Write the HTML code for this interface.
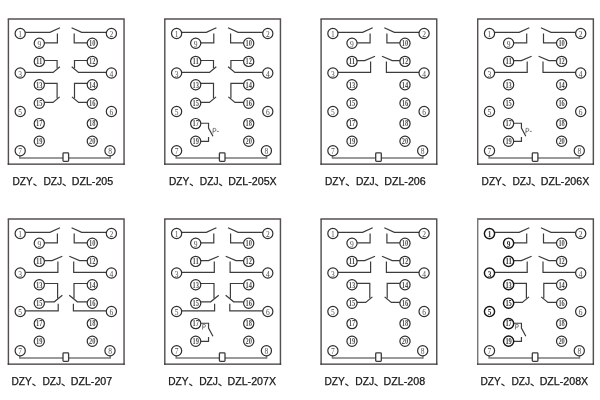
<!DOCTYPE html>
<html><head><meta charset="utf-8"><style>
html,body{margin:0;padding:0;background:#fff;width:600px;height:400px;overflow:hidden}
svg{display:block;will-change:transform}
.bx{fill:none;stroke:#555050;stroke-width:1.45}
.bxb{fill:none;stroke:#363333;stroke-width:1.2}
.ln{fill:none;stroke:#3c3c3c;stroke-width:1.2}
.cl{fill:none;stroke:#7a7a7a;stroke-width:1.5}
.rc{fill:#fff;stroke:#3a3a3a;stroke-width:1.3}
.c{fill:#fff;stroke:#2e2e2e;stroke-width:1.2}
.cb{fill:#fff;stroke:#151515;stroke-width:1.45}
.nb{font-family:"Liberation Serif",serif;font-size:7.3px;fill:#333;text-anchor:middle;font-weight:bold}
.n{font-family:"Liberation Serif",serif;font-size:7.2px;fill:#4e4e4e;font-weight:bold;text-anchor:middle}
.n1{font-family:"Liberation Serif",serif;font-size:7.5px;fill:#505050;text-anchor:middle}
.pg{fill:none;stroke:#707070;stroke-width:0.9}
.lb{font-family:"Liberation Sans",sans-serif;font-size:10.5px;fill:#151515;stroke:#151515;stroke-width:0.25}
.cm{fill:none;stroke:#2a2a2a;stroke-width:1.2;stroke-linecap:round}
</style></head><body>
<svg width="600" height="400" viewBox="0 0 600 400">
<g transform="translate(0,0)"><path class="bx" d="M7.7 19.05H124.75M124.05 19V164.8"/><path class="bx" d="M8.4 19V164.8"/><path class="bxb" d="M7.7 164.15H124.75"/><path class="ln" d="M25.3 32.3 L49.9 32.3 L60 27.7"/><path class="ln" d="M106.3 32.3 L81.7 32.3 L71.6 27.7"/><path class="ln" d="M44.4 42.8 L57.4 42.8 L57.4 33.4"/><path class="ln" d="M87.2 42.8 L74.2 42.8 L74.2 33.4"/><path class="ln" d="M44.4 60.5 L57.1 60.5 L57.1 68.2"/><path class="ln" d="M87.2 60.5 L74.5 60.5 L74.5 68.2"/><path class="ln" d="M25.3 72.35 L53.1 72.35 L59.9 66.7"/><path class="ln" d="M106.3 72.35 L78.5 72.35 L71.7 66.7"/><path class="ln" d="M44.4 83.4 L57.1 83.4 L57.1 98.2"/><path class="ln" d="M87.2 83.4 L74.5 83.4 L74.5 98.2"/><path class="ln" d="M44.4 102.4 L53 102.4 L59.7 96.9"/><path class="ln" d="M87.2 102.4 L78.6 102.4 L71.9 96.9"/><path class="cl" d="M19.8 155.8 L19.8 157.9 L63 157.9"/><path class="cl" d="M68.6 157.9 L110.2 157.9 L110.2 155.8"/><rect class="rc" x="63" y="152.9" width="5.6" height="8.5" rx="0.8"/><circle class="c" cx="20.2" cy="33.55" r="5.1"/><text class="n1" x="20.2" y="37.15">1</text><circle class="c" cx="111.4" cy="33.55" r="5.1"/><text class="n1" x="111.4" y="37.15">2</text><circle class="c" cx="20.2" cy="73" r="5.1"/><text class="n1" x="20.2" y="76.6">3</text><circle class="c" cx="111.4" cy="73" r="5.1"/><text class="n1" x="111.4" y="76.6">4</text><circle class="c" cx="20.2" cy="111.5" r="5.1"/><text class="n1" x="20.2" y="115.1">5</text><circle class="c" cx="111.4" cy="111.5" r="5.1"/><text class="n1" x="111.4" y="115.1">6</text><circle class="c" cx="20.2" cy="150.7" r="5.1"/><text class="n1" x="20.2" y="154.3">7</text><circle class="c" cx="110" cy="150.7" r="5.1"/><text class="n1" x="110" y="154.3">8</text><circle class="c" cx="39.3" cy="43.2" r="5.1"/><text class="n1" x="39.3" y="46.8">9</text><circle class="c" cx="92.3" cy="43.2" r="5.1"/><text class="n" x="92.3" y="46" textLength="6.4" lengthAdjust="spacingAndGlyphs">10</text><circle class="c" cx="39.3" cy="61.4" r="5.1"/><text class="n" x="39.3" y="64.2" textLength="6.4" lengthAdjust="spacingAndGlyphs">11</text><circle class="c" cx="92.3" cy="61.4" r="5.1"/><text class="n" x="92.3" y="64.2" textLength="6.4" lengthAdjust="spacingAndGlyphs">12</text><circle class="c" cx="39.3" cy="84.7" r="5.1"/><text class="n" x="39.3" y="87.5" textLength="6.4" lengthAdjust="spacingAndGlyphs">13</text><circle class="c" cx="92.3" cy="84.7" r="5.1"/><text class="n" x="92.3" y="87.5" textLength="6.4" lengthAdjust="spacingAndGlyphs">14</text><circle class="c" cx="39.3" cy="103.2" r="5.1"/><text class="n" x="39.3" y="106" textLength="6.4" lengthAdjust="spacingAndGlyphs">15</text><circle class="c" cx="92.3" cy="103.2" r="5.1"/><text class="n" x="92.3" y="106" textLength="6.4" lengthAdjust="spacingAndGlyphs">16</text><circle class="c" cx="39.3" cy="123.6" r="5.1"/><text class="n" x="39.3" y="126.4" textLength="6.4" lengthAdjust="spacingAndGlyphs">17</text><circle class="c" cx="92.3" cy="123.6" r="5.1"/><text class="n" x="92.3" y="126.4" textLength="6.4" lengthAdjust="spacingAndGlyphs">18</text><circle class="c" cx="39.3" cy="141.2" r="5.1"/><text class="n" x="39.3" y="144" textLength="6.4" lengthAdjust="spacingAndGlyphs">19</text><circle class="c" cx="92.3" cy="141.2" r="5.1"/><text class="n" x="92.3" y="144" textLength="6.4" lengthAdjust="spacingAndGlyphs">20</text><text class="lb" x="12.5" y="185" textLength="20.3" lengthAdjust="spacingAndGlyphs">DZY</text><path class="cm" d="M33.7 184.1 l2.3 1.5"/><text class="lb" x="43.4" y="185" textLength="18.8" lengthAdjust="spacingAndGlyphs">DZJ</text><path class="cm" d="M62.9 184.1 l2.3 1.5"/><text class="lb" x="71.7" y="185" textLength="41.5" lengthAdjust="spacingAndGlyphs">DZL-205</text></g>
<g transform="translate(156.4,0)"><path class="bx" d="M7.7 19.05H124.75M124.05 19V164.8"/><path class="bx" d="M8.4 19V164.8"/><path class="bxb" d="M7.7 164.15H124.75"/><path class="ln" d="M25.3 32.3 L49.9 32.3 L60 27.7"/><path class="ln" d="M106.3 32.3 L81.7 32.3 L71.6 27.7"/><path class="ln" d="M44.4 42.8 L57.4 42.8 L57.4 33.4"/><path class="ln" d="M87.2 42.8 L74.2 42.8 L74.2 33.4"/><path class="ln" d="M44.4 60.5 L57.1 60.5 L57.1 68.2"/><path class="ln" d="M87.2 60.5 L74.5 60.5 L74.5 68.2"/><path class="ln" d="M25.3 72.35 L53.1 72.35 L59.9 66.7"/><path class="ln" d="M106.3 72.35 L78.5 72.35 L71.7 66.7"/><path class="ln" d="M44.4 83.4 L57.1 83.4 L57.1 98.2"/><path class="ln" d="M87.2 83.4 L74.5 83.4 L74.5 98.2"/><path class="ln" d="M44.4 102.4 L53 102.4 L59.7 96.9"/><path class="ln" d="M87.2 102.4 L78.6 102.4 L71.9 96.9"/><path class="ln" d="M44.4 123.25 L52.14 123.25 L52.14 128.15 L56.55 136.33"/><path class="ln" d="M44.4 141.44 L52.14 141.44 L52.14 137"/><path class="pg" d="M56.85 128.3L56.55 133.5M56.8 128.4H58.3Q59.65 128.4 59.55 129.9Q59.45 131.4 58.1 131.4H56.6M60.5 131.35H62.45"/><path class="cl" d="M19.8 155.8 L19.8 157.9 L63 157.9"/><path class="cl" d="M68.6 157.9 L110.2 157.9 L110.2 155.8"/><rect class="rc" x="63" y="152.9" width="5.6" height="8.5" rx="0.8"/><circle class="c" cx="20.2" cy="33.55" r="5.1"/><text class="n1" x="20.2" y="37.15">1</text><circle class="c" cx="111.4" cy="33.55" r="5.1"/><text class="n1" x="111.4" y="37.15">2</text><circle class="c" cx="20.2" cy="73" r="5.1"/><text class="n1" x="20.2" y="76.6">3</text><circle class="c" cx="111.4" cy="73" r="5.1"/><text class="n1" x="111.4" y="76.6">4</text><circle class="c" cx="20.2" cy="111.5" r="5.1"/><text class="n1" x="20.2" y="115.1">5</text><circle class="c" cx="111.4" cy="111.5" r="5.1"/><text class="n1" x="111.4" y="115.1">6</text><circle class="c" cx="20.2" cy="150.7" r="5.1"/><text class="n1" x="20.2" y="154.3">7</text><circle class="c" cx="110" cy="150.7" r="5.1"/><text class="n1" x="110" y="154.3">8</text><circle class="c" cx="39.3" cy="43.2" r="5.1"/><text class="n1" x="39.3" y="46.8">9</text><circle class="c" cx="92.3" cy="43.2" r="5.1"/><text class="n" x="92.3" y="46" textLength="6.4" lengthAdjust="spacingAndGlyphs">10</text><circle class="c" cx="39.3" cy="61.4" r="5.1"/><text class="n" x="39.3" y="64.2" textLength="6.4" lengthAdjust="spacingAndGlyphs">11</text><circle class="c" cx="92.3" cy="61.4" r="5.1"/><text class="n" x="92.3" y="64.2" textLength="6.4" lengthAdjust="spacingAndGlyphs">12</text><circle class="c" cx="39.3" cy="84.7" r="5.1"/><text class="n" x="39.3" y="87.5" textLength="6.4" lengthAdjust="spacingAndGlyphs">13</text><circle class="c" cx="92.3" cy="84.7" r="5.1"/><text class="n" x="92.3" y="87.5" textLength="6.4" lengthAdjust="spacingAndGlyphs">14</text><circle class="c" cx="39.3" cy="103.2" r="5.1"/><text class="n" x="39.3" y="106" textLength="6.4" lengthAdjust="spacingAndGlyphs">15</text><circle class="c" cx="92.3" cy="103.2" r="5.1"/><text class="n" x="92.3" y="106" textLength="6.4" lengthAdjust="spacingAndGlyphs">16</text><circle class="c" cx="39.3" cy="123.6" r="5.1"/><text class="n" x="39.3" y="126.4" textLength="6.4" lengthAdjust="spacingAndGlyphs">17</text><circle class="c" cx="92.3" cy="123.6" r="5.1"/><text class="n" x="92.3" y="126.4" textLength="6.4" lengthAdjust="spacingAndGlyphs">18</text><circle class="c" cx="39.3" cy="141.2" r="5.1"/><text class="n" x="39.3" y="144" textLength="6.4" lengthAdjust="spacingAndGlyphs">19</text><circle class="c" cx="92.3" cy="141.2" r="5.1"/><text class="n" x="92.3" y="144" textLength="6.4" lengthAdjust="spacingAndGlyphs">20</text><text class="lb" x="12.55" y="185" textLength="20.3" lengthAdjust="spacingAndGlyphs">DZY</text><path class="cm" d="M33.75 184.1 l2.3 1.5"/><text class="lb" x="43.45" y="185" textLength="18.8" lengthAdjust="spacingAndGlyphs">DZJ</text><path class="cm" d="M62.95 184.1 l2.3 1.5"/><text class="lb" x="71.75" y="185" textLength="48.5" lengthAdjust="spacingAndGlyphs">DZL-205X</text></g>
<g transform="translate(312.7,0)"><path class="bx" d="M7.7 19.05H124.75M124.05 19V164.8"/><path class="bx" d="M8.4 19V164.8"/><path class="bxb" d="M7.7 164.15H124.75"/><path class="ln" d="M25.3 32.3 L49.9 32.3 L60 27.7"/><path class="ln" d="M106.3 32.3 L81.7 32.3 L71.6 27.7"/><path class="ln" d="M44.4 42.8 L57.4 42.8 L57.4 33.4"/><path class="ln" d="M87.2 42.8 L74.2 42.8 L74.2 33.4"/><path class="ln" d="M44.4 60.65 L52.07 60.65 L62.33 56.3"/><path class="ln" d="M87.2 60.65 L79.53 60.65 L69.27 56.3"/><path class="ln" d="M25.3 72.35 L57.9 72.35 L57.9 61.6"/><path class="ln" d="M106.3 72.35 L73.7 72.35 L73.7 61.6"/><path class="cl" d="M19.8 155.8 L19.8 157.9 L63 157.9"/><path class="cl" d="M68.6 157.9 L110.2 157.9 L110.2 155.8"/><rect class="rc" x="63" y="152.9" width="5.6" height="8.5" rx="0.8"/><circle class="c" cx="20.2" cy="33.55" r="5.1"/><text class="n1" x="20.2" y="37.15">1</text><circle class="c" cx="111.4" cy="33.55" r="5.1"/><text class="n1" x="111.4" y="37.15">2</text><circle class="c" cx="20.2" cy="73" r="5.1"/><text class="n1" x="20.2" y="76.6">3</text><circle class="c" cx="111.4" cy="73" r="5.1"/><text class="n1" x="111.4" y="76.6">4</text><circle class="c" cx="20.2" cy="111.5" r="5.1"/><text class="n1" x="20.2" y="115.1">5</text><circle class="c" cx="111.4" cy="111.5" r="5.1"/><text class="n1" x="111.4" y="115.1">6</text><circle class="c" cx="20.2" cy="150.7" r="5.1"/><text class="n1" x="20.2" y="154.3">7</text><circle class="c" cx="110" cy="150.7" r="5.1"/><text class="n1" x="110" y="154.3">8</text><circle class="c" cx="39.3" cy="43.2" r="5.1"/><text class="n1" x="39.3" y="46.8">9</text><circle class="c" cx="92.3" cy="43.2" r="5.1"/><text class="n" x="92.3" y="46" textLength="6.4" lengthAdjust="spacingAndGlyphs">10</text><circle class="c" cx="39.3" cy="61.4" r="5.1"/><text class="n" x="39.3" y="64.2" textLength="6.4" lengthAdjust="spacingAndGlyphs">11</text><circle class="c" cx="92.3" cy="61.4" r="5.1"/><text class="n" x="92.3" y="64.2" textLength="6.4" lengthAdjust="spacingAndGlyphs">12</text><circle class="c" cx="39.3" cy="84.7" r="5.1"/><text class="n" x="39.3" y="87.5" textLength="6.4" lengthAdjust="spacingAndGlyphs">13</text><circle class="c" cx="92.3" cy="84.7" r="5.1"/><text class="n" x="92.3" y="87.5" textLength="6.4" lengthAdjust="spacingAndGlyphs">14</text><circle class="c" cx="39.3" cy="103.2" r="5.1"/><text class="n" x="39.3" y="106" textLength="6.4" lengthAdjust="spacingAndGlyphs">15</text><circle class="c" cx="92.3" cy="103.2" r="5.1"/><text class="n" x="92.3" y="106" textLength="6.4" lengthAdjust="spacingAndGlyphs">16</text><circle class="c" cx="39.3" cy="123.6" r="5.1"/><text class="n" x="39.3" y="126.4" textLength="6.4" lengthAdjust="spacingAndGlyphs">17</text><circle class="c" cx="92.3" cy="123.6" r="5.1"/><text class="n" x="92.3" y="126.4" textLength="6.4" lengthAdjust="spacingAndGlyphs">18</text><circle class="c" cx="39.3" cy="141.2" r="5.1"/><text class="n" x="39.3" y="144" textLength="6.4" lengthAdjust="spacingAndGlyphs">19</text><circle class="c" cx="92.3" cy="141.2" r="5.1"/><text class="n" x="92.3" y="144" textLength="6.4" lengthAdjust="spacingAndGlyphs">20</text><text class="lb" x="12.3" y="185" textLength="20.3" lengthAdjust="spacingAndGlyphs">DZY</text><path class="cm" d="M33.5 184.1 l2.3 1.5"/><text class="lb" x="43.2" y="185" textLength="18.8" lengthAdjust="spacingAndGlyphs">DZJ</text><path class="cm" d="M62.7 184.1 l2.3 1.5"/><text class="lb" x="71.5" y="185" textLength="41.5" lengthAdjust="spacingAndGlyphs">DZL-206</text></g>
<g transform="translate(469.3,0)"><path class="bx" d="M7.7 19.05H124.75M124.05 19V164.8"/><path class="bx" d="M8.4 19V164.8"/><path class="bxb" d="M7.7 164.15H124.75"/><path class="ln" d="M25.3 32.3 L49.9 32.3 L60 27.7"/><path class="ln" d="M106.3 32.3 L81.7 32.3 L71.6 27.7"/><path class="ln" d="M44.4 42.8 L57.4 42.8 L57.4 33.4"/><path class="ln" d="M87.2 42.8 L74.2 42.8 L74.2 33.4"/><path class="ln" d="M44.4 60.65 L52.07 60.65 L62.33 56.3"/><path class="ln" d="M87.2 60.65 L79.53 60.65 L69.27 56.3"/><path class="ln" d="M25.3 72.35 L57.9 72.35 L57.9 61.6"/><path class="ln" d="M106.3 72.35 L73.7 72.35 L73.7 61.6"/><path class="ln" d="M44.4 123.25 L52.14 123.25 L52.14 128.15 L56.55 136.33"/><path class="ln" d="M44.4 141.44 L52.14 141.44 L52.14 137"/><path class="pg" d="M56.85 128.3L56.55 133.5M56.8 128.4H58.3Q59.65 128.4 59.55 129.9Q59.45 131.4 58.1 131.4H56.6M60.5 131.35H62.45"/><path class="cl" d="M19.8 155.8 L19.8 157.9 L63 157.9"/><path class="cl" d="M68.6 157.9 L110.2 157.9 L110.2 155.8"/><rect class="rc" x="63" y="152.9" width="5.6" height="8.5" rx="0.8"/><circle class="c" cx="20.2" cy="33.55" r="5.1"/><text class="n1" x="20.2" y="37.15">1</text><circle class="c" cx="111.4" cy="33.55" r="5.1"/><text class="n1" x="111.4" y="37.15">2</text><circle class="c" cx="20.2" cy="73" r="5.1"/><text class="n1" x="20.2" y="76.6">3</text><circle class="c" cx="111.4" cy="73" r="5.1"/><text class="n1" x="111.4" y="76.6">4</text><circle class="c" cx="20.2" cy="111.5" r="5.1"/><text class="n1" x="20.2" y="115.1">5</text><circle class="c" cx="111.4" cy="111.5" r="5.1"/><text class="n1" x="111.4" y="115.1">6</text><circle class="c" cx="20.2" cy="150.7" r="5.1"/><text class="n1" x="20.2" y="154.3">7</text><circle class="c" cx="110" cy="150.7" r="5.1"/><text class="n1" x="110" y="154.3">8</text><circle class="c" cx="39.3" cy="43.2" r="5.1"/><text class="n1" x="39.3" y="46.8">9</text><circle class="c" cx="92.3" cy="43.2" r="5.1"/><text class="n" x="92.3" y="46" textLength="6.4" lengthAdjust="spacingAndGlyphs">10</text><circle class="c" cx="39.3" cy="61.4" r="5.1"/><text class="n" x="39.3" y="64.2" textLength="6.4" lengthAdjust="spacingAndGlyphs">11</text><circle class="c" cx="92.3" cy="61.4" r="5.1"/><text class="n" x="92.3" y="64.2" textLength="6.4" lengthAdjust="spacingAndGlyphs">12</text><circle class="c" cx="39.3" cy="84.7" r="5.1"/><text class="n" x="39.3" y="87.5" textLength="6.4" lengthAdjust="spacingAndGlyphs">13</text><circle class="c" cx="92.3" cy="84.7" r="5.1"/><text class="n" x="92.3" y="87.5" textLength="6.4" lengthAdjust="spacingAndGlyphs">14</text><circle class="c" cx="39.3" cy="103.2" r="5.1"/><text class="n" x="39.3" y="106" textLength="6.4" lengthAdjust="spacingAndGlyphs">15</text><circle class="c" cx="92.3" cy="103.2" r="5.1"/><text class="n" x="92.3" y="106" textLength="6.4" lengthAdjust="spacingAndGlyphs">16</text><circle class="c" cx="39.3" cy="123.6" r="5.1"/><text class="n" x="39.3" y="126.4" textLength="6.4" lengthAdjust="spacingAndGlyphs">17</text><circle class="c" cx="92.3" cy="123.6" r="5.1"/><text class="n" x="92.3" y="126.4" textLength="6.4" lengthAdjust="spacingAndGlyphs">18</text><circle class="c" cx="39.3" cy="141.2" r="5.1"/><text class="n" x="39.3" y="144" textLength="6.4" lengthAdjust="spacingAndGlyphs">19</text><circle class="c" cx="92.3" cy="141.2" r="5.1"/><text class="n" x="92.3" y="144" textLength="6.4" lengthAdjust="spacingAndGlyphs">20</text><text class="lb" x="12.25" y="185" textLength="20.3" lengthAdjust="spacingAndGlyphs">DZY</text><path class="cm" d="M33.45 184.1 l2.3 1.5"/><text class="lb" x="43.15" y="185" textLength="18.8" lengthAdjust="spacingAndGlyphs">DZJ</text><path class="cm" d="M62.65 184.1 l2.3 1.5"/><text class="lb" x="71.45" y="185" textLength="48.5" lengthAdjust="spacingAndGlyphs">DZL-206X</text></g>
<g transform="translate(0,200)"><path class="bx" d="M7.7 19.05H124.75M124.05 19V164.8"/><path class="bx" d="M8.4 19V164.8"/><path class="bxb" d="M7.7 164.15H124.75"/><path class="ln" d="M25.3 32.3 L49.9 32.3 L60 27.7"/><path class="ln" d="M106.3 32.3 L81.7 32.3 L71.6 27.7"/><path class="ln" d="M44.4 42.8 L57.4 42.8 L57.4 33.4"/><path class="ln" d="M87.2 42.8 L74.2 42.8 L74.2 33.4"/><path class="ln" d="M44.4 60.65 L52.07 60.65 L62.33 56.3"/><path class="ln" d="M87.2 60.65 L79.53 60.65 L69.27 56.3"/><path class="ln" d="M25.3 72.35 L57.9 72.35 L57.9 61.6"/><path class="ln" d="M106.3 72.35 L73.7 72.35 L73.7 61.6"/><path class="ln" d="M44.4 83.5 L57.6 83.5 L57.6 98.4"/><path class="ln" d="M87.2 83.5 L74 83.5 L74 98.4"/><path class="ln" d="M44.4 101.8 L54.3 101.8 L62.35 95.3"/><path class="ln" d="M87.2 101.8 L77.3 101.8 L69.25 95.3"/><path class="ln" d="M25.3 110.8 L58.2 110.8 L58.2 103.7"/><path class="ln" d="M106.3 110.8 L73.4 110.8 L73.4 103.7"/><path class="cl" d="M19.8 155.8 L19.8 157.9 L63 157.9"/><path class="cl" d="M68.6 157.9 L110.2 157.9 L110.2 155.8"/><rect class="rc" x="63" y="152.9" width="5.6" height="8.5" rx="0.8"/><circle class="c" cx="20.2" cy="33.55" r="5.1"/><text class="n1" x="20.2" y="37.15">1</text><circle class="c" cx="111.4" cy="33.55" r="5.1"/><text class="n1" x="111.4" y="37.15">2</text><circle class="c" cx="20.2" cy="73" r="5.1"/><text class="n1" x="20.2" y="76.6">3</text><circle class="c" cx="111.4" cy="73" r="5.1"/><text class="n1" x="111.4" y="76.6">4</text><circle class="c" cx="20.2" cy="111.5" r="5.1"/><text class="n1" x="20.2" y="115.1">5</text><circle class="c" cx="111.4" cy="111.5" r="5.1"/><text class="n1" x="111.4" y="115.1">6</text><circle class="c" cx="20.2" cy="150.7" r="5.1"/><text class="n1" x="20.2" y="154.3">7</text><circle class="c" cx="110" cy="150.7" r="5.1"/><text class="n1" x="110" y="154.3">8</text><circle class="c" cx="39.3" cy="43.2" r="5.1"/><text class="n1" x="39.3" y="46.8">9</text><circle class="c" cx="92.3" cy="43.2" r="5.1"/><text class="n" x="92.3" y="46" textLength="6.4" lengthAdjust="spacingAndGlyphs">10</text><circle class="c" cx="39.3" cy="61.4" r="5.1"/><text class="n" x="39.3" y="64.2" textLength="6.4" lengthAdjust="spacingAndGlyphs">11</text><circle class="c" cx="92.3" cy="61.4" r="5.1"/><text class="n" x="92.3" y="64.2" textLength="6.4" lengthAdjust="spacingAndGlyphs">12</text><circle class="c" cx="39.3" cy="84.7" r="5.1"/><text class="n" x="39.3" y="87.5" textLength="6.4" lengthAdjust="spacingAndGlyphs">13</text><circle class="c" cx="92.3" cy="84.7" r="5.1"/><text class="n" x="92.3" y="87.5" textLength="6.4" lengthAdjust="spacingAndGlyphs">14</text><circle class="c" cx="39.3" cy="103.2" r="5.1"/><text class="n" x="39.3" y="106" textLength="6.4" lengthAdjust="spacingAndGlyphs">15</text><circle class="c" cx="92.3" cy="103.2" r="5.1"/><text class="n" x="92.3" y="106" textLength="6.4" lengthAdjust="spacingAndGlyphs">16</text><circle class="c" cx="39.3" cy="123.6" r="5.1"/><text class="n" x="39.3" y="126.4" textLength="6.4" lengthAdjust="spacingAndGlyphs">17</text><circle class="c" cx="92.3" cy="123.6" r="5.1"/><text class="n" x="92.3" y="126.4" textLength="6.4" lengthAdjust="spacingAndGlyphs">18</text><circle class="c" cx="39.3" cy="141.2" r="5.1"/><text class="n" x="39.3" y="144" textLength="6.4" lengthAdjust="spacingAndGlyphs">19</text><circle class="c" cx="92.3" cy="141.2" r="5.1"/><text class="n" x="92.3" y="144" textLength="6.4" lengthAdjust="spacingAndGlyphs">20</text><text class="lb" x="11.5" y="185" textLength="20.3" lengthAdjust="spacingAndGlyphs">DZY</text><path class="cm" d="M32.7 184.1 l2.3 1.5"/><text class="lb" x="42.4" y="185" textLength="18.8" lengthAdjust="spacingAndGlyphs">DZJ</text><path class="cm" d="M61.9 184.1 l2.3 1.5"/><text class="lb" x="70.7" y="185" textLength="41.5" lengthAdjust="spacingAndGlyphs">DZL-207</text></g>
<g transform="translate(156.4,200)"><path class="bx" d="M7.7 19.05H124.75M124.05 19V164.8"/><path class="bx" d="M8.4 19V164.8"/><path class="bxb" d="M7.7 164.15H124.75"/><path class="ln" d="M25.3 32.3 L49.9 32.3 L60 27.7"/><path class="ln" d="M106.3 32.3 L81.7 32.3 L71.6 27.7"/><path class="ln" d="M44.4 42.8 L57.4 42.8 L57.4 33.4"/><path class="ln" d="M87.2 42.8 L74.2 42.8 L74.2 33.4"/><path class="ln" d="M44.4 60.65 L52.07 60.65 L62.33 56.3"/><path class="ln" d="M87.2 60.65 L79.53 60.65 L69.27 56.3"/><path class="ln" d="M25.3 72.35 L57.9 72.35 L57.9 61.6"/><path class="ln" d="M106.3 72.35 L73.7 72.35 L73.7 61.6"/><path class="ln" d="M44.4 83.5 L57.6 83.5 L57.6 98.4"/><path class="ln" d="M87.2 83.5 L74 83.5 L74 98.4"/><path class="ln" d="M44.4 101.8 L54.3 101.8 L62.35 95.3"/><path class="ln" d="M87.2 101.8 L77.3 101.8 L69.25 95.3"/><path class="ln" d="M25.3 110.8 L58.2 110.8 L58.2 103.7"/><path class="ln" d="M106.3 110.8 L73.4 110.8 L73.4 103.7"/><path class="ln" d="M44.4 123.25 L52.14 123.25 L52.14 128.15 L56.55 136.33"/><path class="ln" d="M44.4 141.44 L52.14 141.44 L52.14 137"/><path class="pg" d="M46.4 124.3L46.1 129.5M46.35 124.4H47.7Q49.2 124.4 49.15 125.8Q49.1 127.2 47.6 127.2H46.2"/><path class="cl" d="M19.8 155.8 L19.8 157.9 L63 157.9"/><path class="cl" d="M68.6 157.9 L110.2 157.9 L110.2 155.8"/><rect class="rc" x="63" y="152.9" width="5.6" height="8.5" rx="0.8"/><circle class="c" cx="20.2" cy="33.55" r="5.1"/><text class="n1" x="20.2" y="37.15">1</text><circle class="c" cx="111.4" cy="33.55" r="5.1"/><text class="n1" x="111.4" y="37.15">2</text><circle class="c" cx="20.2" cy="73" r="5.1"/><text class="n1" x="20.2" y="76.6">3</text><circle class="c" cx="111.4" cy="73" r="5.1"/><text class="n1" x="111.4" y="76.6">4</text><circle class="c" cx="20.2" cy="111.5" r="5.1"/><text class="n1" x="20.2" y="115.1">5</text><circle class="c" cx="111.4" cy="111.5" r="5.1"/><text class="n1" x="111.4" y="115.1">6</text><circle class="c" cx="20.2" cy="150.7" r="5.1"/><text class="n1" x="20.2" y="154.3">7</text><circle class="c" cx="110" cy="150.7" r="5.1"/><text class="n1" x="110" y="154.3">8</text><circle class="c" cx="39.3" cy="43.2" r="5.1"/><text class="n1" x="39.3" y="46.8">9</text><circle class="c" cx="92.3" cy="43.2" r="5.1"/><text class="n" x="92.3" y="46" textLength="6.4" lengthAdjust="spacingAndGlyphs">10</text><circle class="c" cx="39.3" cy="61.4" r="5.1"/><text class="n" x="39.3" y="64.2" textLength="6.4" lengthAdjust="spacingAndGlyphs">11</text><circle class="c" cx="92.3" cy="61.4" r="5.1"/><text class="n" x="92.3" y="64.2" textLength="6.4" lengthAdjust="spacingAndGlyphs">12</text><circle class="c" cx="39.3" cy="84.7" r="5.1"/><text class="n" x="39.3" y="87.5" textLength="6.4" lengthAdjust="spacingAndGlyphs">13</text><circle class="c" cx="92.3" cy="84.7" r="5.1"/><text class="n" x="92.3" y="87.5" textLength="6.4" lengthAdjust="spacingAndGlyphs">14</text><circle class="c" cx="39.3" cy="103.2" r="5.1"/><text class="n" x="39.3" y="106" textLength="6.4" lengthAdjust="spacingAndGlyphs">15</text><circle class="c" cx="92.3" cy="103.2" r="5.1"/><text class="n" x="92.3" y="106" textLength="6.4" lengthAdjust="spacingAndGlyphs">16</text><circle class="c" cx="39.3" cy="123.6" r="5.1"/><text class="n" x="39.3" y="126.4" textLength="6.4" lengthAdjust="spacingAndGlyphs">17</text><circle class="c" cx="92.3" cy="123.6" r="5.1"/><text class="n" x="92.3" y="126.4" textLength="6.4" lengthAdjust="spacingAndGlyphs">18</text><circle class="c" cx="39.3" cy="141.2" r="5.1"/><text class="n" x="39.3" y="144" textLength="6.4" lengthAdjust="spacingAndGlyphs">19</text><circle class="c" cx="92.3" cy="141.2" r="5.1"/><text class="n" x="92.3" y="144" textLength="6.4" lengthAdjust="spacingAndGlyphs">20</text><text class="lb" x="11.9" y="185" textLength="20.3" lengthAdjust="spacingAndGlyphs">DZY</text><path class="cm" d="M33.1 184.1 l2.3 1.5"/><text class="lb" x="42.8" y="185" textLength="18.8" lengthAdjust="spacingAndGlyphs">DZJ</text><path class="cm" d="M62.3 184.1 l2.3 1.5"/><text class="lb" x="71.1" y="185" textLength="48.5" lengthAdjust="spacingAndGlyphs">DZL-207X</text></g>
<g transform="translate(312.7,200)"><path class="bx" d="M7.7 19.05H124.75M124.05 19V164.8"/><path class="bx" d="M8.4 19V164.8"/><path class="bxb" d="M7.7 164.15H124.75"/><path class="ln" d="M25.3 32.3 L49.9 32.3 L60 27.7"/><path class="ln" d="M106.3 32.3 L81.7 32.3 L71.6 27.7"/><path class="ln" d="M44.4 42.8 L57.4 42.8 L57.4 33.4"/><path class="ln" d="M87.2 42.8 L74.2 42.8 L74.2 33.4"/><path class="ln" d="M44.4 60.65 L52.07 60.65 L62.33 56.3"/><path class="ln" d="M87.2 60.65 L79.53 60.65 L69.27 56.3"/><path class="ln" d="M25.3 72.35 L57.9 72.35 L57.9 61.6"/><path class="ln" d="M106.3 72.35 L73.7 72.35 L73.7 61.6"/><path class="ln" d="M44.4 83.4 L57.1 83.4 L57.1 98.2"/><path class="ln" d="M87.2 83.4 L74.5 83.4 L74.5 98.2"/><path class="ln" d="M44.4 102.4 L53 102.4 L59.7 96.9"/><path class="ln" d="M87.2 102.4 L78.6 102.4 L71.9 96.9"/><path class="cl" d="M19.8 155.8 L19.8 157.9 L63 157.9"/><path class="cl" d="M68.6 157.9 L110.2 157.9 L110.2 155.8"/><rect class="rc" x="63" y="152.9" width="5.6" height="8.5" rx="0.8"/><circle class="c" cx="20.2" cy="33.55" r="5.1"/><text class="n1" x="20.2" y="37.15">1</text><circle class="c" cx="111.4" cy="33.55" r="5.1"/><text class="n1" x="111.4" y="37.15">2</text><circle class="c" cx="20.2" cy="73" r="5.1"/><text class="n1" x="20.2" y="76.6">3</text><circle class="c" cx="111.4" cy="73" r="5.1"/><text class="n1" x="111.4" y="76.6">4</text><circle class="c" cx="20.2" cy="111.5" r="5.1"/><text class="n1" x="20.2" y="115.1">5</text><circle class="c" cx="111.4" cy="111.5" r="5.1"/><text class="n1" x="111.4" y="115.1">6</text><circle class="c" cx="20.2" cy="150.7" r="5.1"/><text class="n1" x="20.2" y="154.3">7</text><circle class="c" cx="110" cy="150.7" r="5.1"/><text class="n1" x="110" y="154.3">8</text><circle class="c" cx="39.3" cy="43.2" r="5.1"/><text class="n1" x="39.3" y="46.8">9</text><circle class="c" cx="92.3" cy="43.2" r="5.1"/><text class="n" x="92.3" y="46" textLength="6.4" lengthAdjust="spacingAndGlyphs">10</text><circle class="c" cx="39.3" cy="61.4" r="5.1"/><text class="n" x="39.3" y="64.2" textLength="6.4" lengthAdjust="spacingAndGlyphs">11</text><circle class="c" cx="92.3" cy="61.4" r="5.1"/><text class="n" x="92.3" y="64.2" textLength="6.4" lengthAdjust="spacingAndGlyphs">12</text><circle class="c" cx="39.3" cy="84.7" r="5.1"/><text class="n" x="39.3" y="87.5" textLength="6.4" lengthAdjust="spacingAndGlyphs">13</text><circle class="c" cx="92.3" cy="84.7" r="5.1"/><text class="n" x="92.3" y="87.5" textLength="6.4" lengthAdjust="spacingAndGlyphs">14</text><circle class="c" cx="39.3" cy="103.2" r="5.1"/><text class="n" x="39.3" y="106" textLength="6.4" lengthAdjust="spacingAndGlyphs">15</text><circle class="c" cx="92.3" cy="103.2" r="5.1"/><text class="n" x="92.3" y="106" textLength="6.4" lengthAdjust="spacingAndGlyphs">16</text><circle class="c" cx="39.3" cy="123.6" r="5.1"/><text class="n" x="39.3" y="126.4" textLength="6.4" lengthAdjust="spacingAndGlyphs">17</text><circle class="c" cx="92.3" cy="123.6" r="5.1"/><text class="n" x="92.3" y="126.4" textLength="6.4" lengthAdjust="spacingAndGlyphs">18</text><circle class="c" cx="39.3" cy="141.2" r="5.1"/><text class="n" x="39.3" y="144" textLength="6.4" lengthAdjust="spacingAndGlyphs">19</text><circle class="c" cx="92.3" cy="141.2" r="5.1"/><text class="n" x="92.3" y="144" textLength="6.4" lengthAdjust="spacingAndGlyphs">20</text><text class="lb" x="11.7" y="185" textLength="20.3" lengthAdjust="spacingAndGlyphs">DZY</text><path class="cm" d="M32.9 184.1 l2.3 1.5"/><text class="lb" x="42.6" y="185" textLength="18.8" lengthAdjust="spacingAndGlyphs">DZJ</text><path class="cm" d="M62.1 184.1 l2.3 1.5"/><text class="lb" x="70.9" y="185" textLength="41.5" lengthAdjust="spacingAndGlyphs">DZL-208</text></g>
<g transform="translate(469.3,200)"><path class="bx" d="M7.7 19.05H124.75M124.05 19V164.8"/><path class="bx" style="stroke:#7a7777" d="M8.4 19V164.8"/><path class="bxb" d="M7.7 164.15H124.75"/><path class="ln" d="M25.3 32.3 L49.9 32.3 L60 27.7"/><path class="ln" d="M106.3 32.3 L81.7 32.3 L71.6 27.7"/><path class="ln" d="M44.4 42.8 L57.4 42.8 L57.4 33.4"/><path class="ln" d="M87.2 42.8 L74.2 42.8 L74.2 33.4"/><path class="ln" d="M44.4 60.65 L52.07 60.65 L62.33 56.3"/><path class="ln" d="M87.2 60.65 L79.53 60.65 L69.27 56.3"/><path class="ln" d="M25.3 72.35 L57.9 72.35 L57.9 61.6"/><path class="ln" d="M106.3 72.35 L73.7 72.35 L73.7 61.6"/><path class="ln" d="M44.4 83.4 L57.1 83.4 L57.1 98.2"/><path class="ln" d="M87.2 83.4 L74.5 83.4 L74.5 98.2"/><path class="ln" d="M44.4 102.4 L53 102.4 L59.7 96.9"/><path class="ln" d="M87.2 102.4 L78.6 102.4 L71.9 96.9"/><path class="ln" d="M44.4 123.25 L52.14 123.25 L52.14 128.15 L56.55 136.33"/><path class="ln" d="M44.4 141.44 L52.14 141.44 L52.14 137"/><path class="pg" d="M46.4 124.3L46.1 129.5M46.35 124.4H47.7Q49.2 124.4 49.15 125.8Q49.1 127.2 47.6 127.2H46.2"/><path class="cl" d="M19.8 155.8 L19.8 157.9 L63 157.9"/><path class="cl" d="M68.6 157.9 L110.2 157.9 L110.2 155.8"/><rect class="rc" x="63" y="152.9" width="5.6" height="8.5" rx="0.8"/><circle class="cb" cx="20.2" cy="33.55" r="5.1"/><text class="nb" x="20.2" y="37.15">1</text><circle class="c" cx="111.4" cy="33.55" r="5.1"/><text class="n1" x="111.4" y="37.15">2</text><circle class="cb" cx="20.2" cy="73" r="5.1"/><text class="nb" x="20.2" y="76.6">3</text><circle class="c" cx="111.4" cy="73" r="5.1"/><text class="n1" x="111.4" y="76.6">4</text><circle class="cb" cx="20.2" cy="111.5" r="5.1"/><text class="nb" x="20.2" y="115.1">5</text><circle class="c" cx="111.4" cy="111.5" r="5.1"/><text class="n1" x="111.4" y="115.1">6</text><circle class="c" cx="20.2" cy="150.7" r="5.1"/><text class="n1" x="20.2" y="154.3">7</text><circle class="c" cx="110" cy="150.7" r="5.1"/><text class="n1" x="110" y="154.3">8</text><circle class="cb" cx="39.3" cy="43.2" r="5.1"/><text class="nb" x="39.3" y="46.8">9</text><circle class="c" cx="92.3" cy="43.2" r="5.1"/><text class="n" x="92.3" y="46" textLength="6.4" lengthAdjust="spacingAndGlyphs">10</text><circle class="cb" cx="39.3" cy="61.4" r="5.1"/><text class="nb" x="39.3" y="64.2" textLength="6.4" lengthAdjust="spacingAndGlyphs">11</text><circle class="c" cx="92.3" cy="61.4" r="5.1"/><text class="n" x="92.3" y="64.2" textLength="6.4" lengthAdjust="spacingAndGlyphs">12</text><circle class="cb" cx="39.3" cy="84.7" r="5.1"/><text class="nb" x="39.3" y="87.5" textLength="6.4" lengthAdjust="spacingAndGlyphs">13</text><circle class="c" cx="92.3" cy="84.7" r="5.1"/><text class="n" x="92.3" y="87.5" textLength="6.4" lengthAdjust="spacingAndGlyphs">14</text><circle class="cb" cx="39.3" cy="103.2" r="5.1"/><text class="nb" x="39.3" y="106" textLength="6.4" lengthAdjust="spacingAndGlyphs">15</text><circle class="c" cx="92.3" cy="103.2" r="5.1"/><text class="n" x="92.3" y="106" textLength="6.4" lengthAdjust="spacingAndGlyphs">16</text><circle class="cb" cx="39.3" cy="123.6" r="5.1"/><text class="nb" x="39.3" y="126.4" textLength="6.4" lengthAdjust="spacingAndGlyphs">17</text><circle class="c" cx="92.3" cy="123.6" r="5.1"/><text class="n" x="92.3" y="126.4" textLength="6.4" lengthAdjust="spacingAndGlyphs">18</text><circle class="cb" cx="39.3" cy="141.2" r="5.1"/><text class="nb" x="39.3" y="144" textLength="6.4" lengthAdjust="spacingAndGlyphs">19</text><circle class="c" cx="92.3" cy="141.2" r="5.1"/><text class="n" x="92.3" y="144" textLength="6.4" lengthAdjust="spacingAndGlyphs">20</text><text class="lb" x="11.2" y="185" textLength="20.3" lengthAdjust="spacingAndGlyphs">DZY</text><path class="cm" d="M32.4 184.1 l2.3 1.5"/><text class="lb" x="42.1" y="185" textLength="18.8" lengthAdjust="spacingAndGlyphs">DZJ</text><path class="cm" d="M61.6 184.1 l2.3 1.5"/><text class="lb" x="70.4" y="185" textLength="48.5" lengthAdjust="spacingAndGlyphs">DZL-208X</text></g>
</svg>
</body></html>
